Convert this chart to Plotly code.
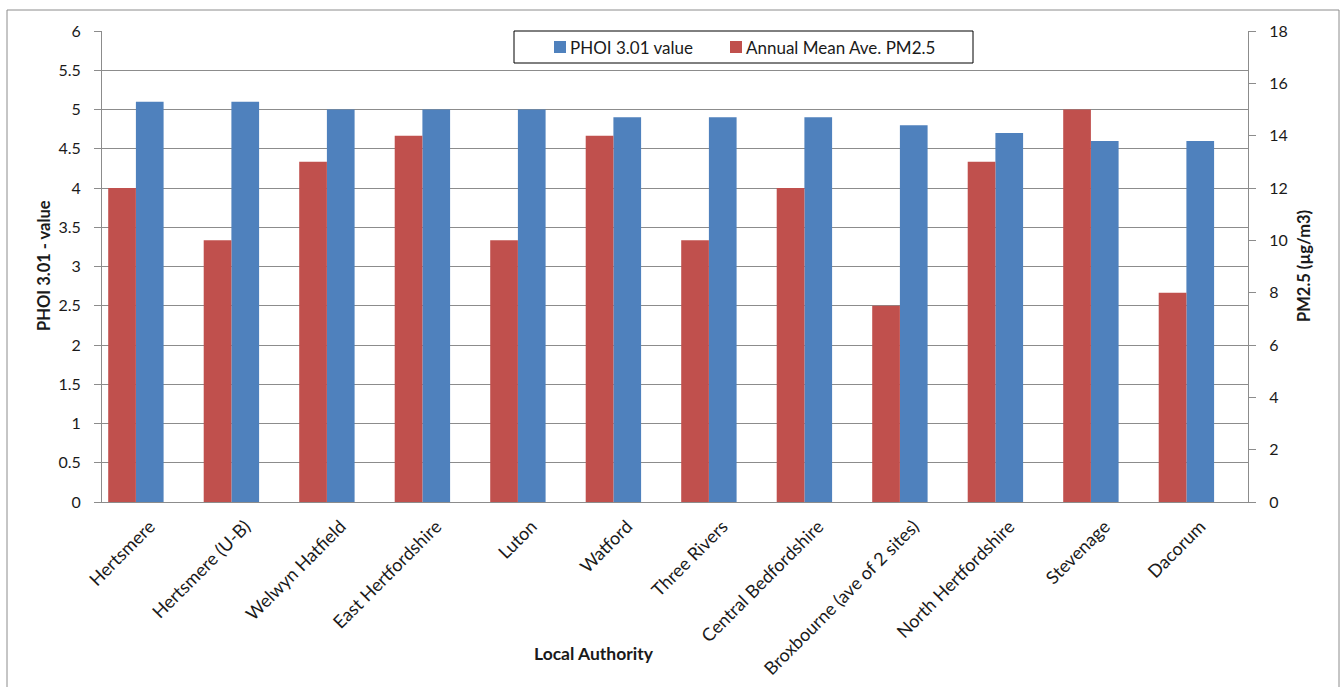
import plotly.graph_objects as go

# Local authorities and their readings
authorities = [
    "Hertsmere", "Hertsmere (U-B)", "Welwyn Hatfield", "East Hertfordshire",
    "Luton", "Watford", "Three Rivers", "Central Bedfordshire",
    "Broxbourne (ave of 2 sites)", "North Hertfordshire", "Stevenage", "Dacorum",
]
phoi_values = [5.1, 5.1, 5.0, 5.0, 5.0, 4.9, 4.9, 4.9, 4.8, 4.7, 4.6, 4.6]
pm25_values = [12, 10, 13, 14, 10, 14, 10, 12, 7.5, 13, 15, 8]

left_ticks = [0, 0.5, 1, 1.5, 2, 2.5, 3, 3.5, 4, 4.5, 5, 5.5, 6]
right_ticks = [0, 2, 4, 6, 8, 10, 12, 14, 16, 18]

PHOI_NAME = "PHOI 3.01 value"
PM_NAME = "Annual Mean Ave. PM2.5"

BLUE = "#4F81BD"
RED = "#C0504D"
GRID = "#8C8C8C"
TEXT = "#1a1a1a"
FONT = "Lato"

W, H = 1341, 687
L, R, T, B = 102, 93, 31, 185
pw, ph = W - L - R, H - T - B


def px_x(px):
    return (px - L) / pw


def px_y(py):
    return (H - B - py) / ph


fig = go.Figure()
fig.add_trace(go.Bar(
    x=authorities, y=pm25_values, name=PM_NAME,
    marker=dict(color=RED, line=dict(width=0)),
    width=0.29, offset=-0.435, yaxis="y2",
))
fig.add_trace(go.Bar(
    x=authorities, y=phoi_values, name=PHOI_NAME,
    marker=dict(color=BLUE, line=dict(width=0)),
    width=0.29, offset=-0.145, yaxis="y",
))

# Boxed legend drawn at the top of the plot
legend_items = [(PHOI_NAME, BLUE, 554), (PM_NAME, RED, 730)]
shapes = [
    # outer chart frame
    dict(type="rect", xref="paper", yref="paper",
         x0=px_x(7), x1=px_x(1339), y0=px_y(700), y1=px_y(10),
         line=dict(color=GRID, width=1), layer="below"),
    # legend box
    dict(type="rect", xref="paper", yref="paper",
         x0=px_x(514), x1=px_x(973), y0=px_y(63), y1=px_y(31),
         line=dict(color="black", width=1), fillcolor="white", layer="above"),
]
annotations = []
for name, color, sx in legend_items:
    shapes.append(dict(
        type="rect", xref="paper", yref="paper",
        x0=px_x(sx), x1=px_x(sx + 12), y0=px_y(53), y1=px_y(41),
        line=dict(width=0), fillcolor=color, layer="above",
    ))
    annotations.append(dict(
        text=name, xref="paper", yref="paper", x=px_x(sx + 14), y=px_y(47),
        xanchor="left", yanchor="middle", showarrow=False,
        font=dict(size=17, color=TEXT),
    ))

annotations += [
    dict(text="<b>Local Authority</b>", xref="paper", yref="paper",
         x=px_x(594), y=px_y(653), xanchor="center", yanchor="middle",
         showarrow=False, font=dict(size=17.5, color=TEXT)),
    dict(text="<b>PHOI 3.01 - value</b>", xref="paper", yref="paper",
         x=px_x(44), y=px_y(266), xanchor="center", yanchor="middle",
         showarrow=False, textangle=-90, font=dict(size=16.5, color=TEXT)),
    dict(text="<b>PM2.5 (µg/m3)</b>", xref="paper", yref="paper",
         x=px_x(1304), y=px_y(266), xanchor="center", yanchor="middle",
         showarrow=False, textangle=-90, font=dict(size=16.5, color=TEXT)),
]

fig.update_layout(
    width=W, height=H,
    margin=dict(l=L, r=R, t=T, b=B, pad=0, autoexpand=False),
    paper_bgcolor="white", plot_bgcolor="white",
    font=dict(family=FONT, size=16, color=TEXT),
    barmode="overlay",
    showlegend=False,
    xaxis=dict(
        tickangle=-45, showgrid=False, showline=True, linecolor=GRID, linewidth=1,
        ticks="", tickfont=dict(size=18), range=[-0.5, 11.5],
        ticklabelstandoff=6, automargin=False,
    ),
    yaxis=dict(
        range=[0, 6], tickvals=left_ticks, ticktext=[f"{v:g}" for v in left_ticks],
        showgrid=True, gridcolor=GRID, gridwidth=1, zeroline=False,
        showline=True, linecolor=GRID, linewidth=1, ticks="outside", ticklen=7,
        tickcolor=GRID, tickfont=dict(size=16), ticklabelstandoff=10,
        automargin=False,
    ),
    yaxis2=dict(
        range=[0, 18], tickvals=right_ticks, overlaying="y", side="right",
        showgrid=False, zeroline=False, showline=True, linecolor=GRID, linewidth=1,
        ticks="outside", ticklen=7, tickcolor=GRID, tickfont=dict(size=16),
        ticklabelstandoff=10, automargin=False,
    ),
    shapes=shapes,
    annotations=annotations,
)

fig.write_html("out.html")
